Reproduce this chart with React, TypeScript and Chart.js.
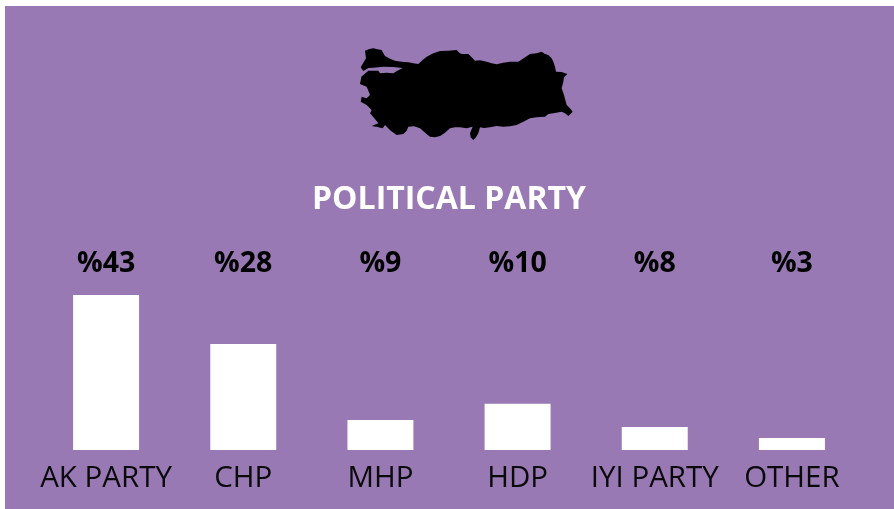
import React, { useEffect, useRef } from "react";
import { Chart, registerables } from "chart.js";

Chart.register(...registerables);

const categories = ["AK PARTY", "CHP", "MHP", "HDP", "IYI PARTY", "OTHER"];
const barValues = [43, 29.4, 8.3, 12.8, 6.4, 3.3];
const valueLabels = ["%43", "%28", "%9", "%10", "%8", "%3"];
const titleText = "POLITICAL PARTY";

const mapOutline =
  "75,62 88,57 100,55 112,58 125,60 130,70 135,78 150,86 165,92 185,95 205,97 220,100 235,102 248,90 260,80 280,70 300,63 325,62 350,60 358,68 365,72 385,72 395,82 405,92 420,91 440,95 455,100 470,103 490,98 510,95 535,95 552,84 570,72 590,70 605,65 615,72 625,75 635,85 640,95 645,110 648,125 665,126 682,132 672,142 670,155 665,175 672,195 680,225 690,235 698,245 685,258 675,250 665,245 640,250 625,252 615,260 590,262 570,265 550,275 530,285 510,289 490,290 470,288 450,292 432,294 420,292 415,310 408,322 400,330 392,322 390,310 398,290 380,295 360,292 345,292 330,295 315,308 300,318 285,322 270,320 255,308 240,295 222,289 205,290 200,302 190,312 170,315 152,302 135,285 128,295 112,291 95,288 115,280 103,265 90,250 95,240 80,225 62,215 65,200 80,205 90,195 85,182 80,170 60,162 64,140 85,122 115,122 120,130 140,128 160,130 172,122 188,114 160,111 130,110 100,113 85,114 70,123 62,112 70,98 78,85";

const valueLabelPlugin = {
  id: "valueLabels",
  afterDatasetsDraw(chart: any) {
    const { ctx } = chart;
    const meta = chart.getDatasetMeta(0);
    ctx.save();
    ctx.font = "bold 28.5px 'Open Sans'";
    ctx.fillStyle = "#000000";
    ctx.textAlign = "center";
    ctx.textBaseline = "middle";
    meta.data.forEach((bar: any, i: number) => {
      ctx.fillText(valueLabels[i], bar.x, 264);
    });
    ctx.restore();
  },
};

export default function App() {
  const canvasRef = useRef<HTMLCanvasElement>(null);

  useEffect(() => {
    document.body.style.margin = "0";
    const chart = new Chart(canvasRef.current as HTMLCanvasElement, {
      type: "bar",
      data: {
        labels: categories,
        datasets: [
          {
            data: barValues,
            backgroundColor: "#ffffff",
            borderWidth: 0,
            barPercentage: 0.481,
            categoryPercentage: 1,
          },
        ],
      },
      options: {
        responsive: false,
        animation: false,
        layout: { padding: { left: 37.5, right: 33.5, top: 180.5, bottom: 9.6 } },
        plugins: {
          legend: { display: false },
          tooltip: { enabled: false },
          title: {
            display: true,
            text: titleText,
            color: "#ffffff",
            font: { family: "'Open Sans'", size: 32, weight: "bold" },
            padding: { top: 0, bottom: 76 },
          },
        },
        scales: {
          x: {
            grid: { display: false },
            border: { display: false },
            ticks: {
              color: "#0a0a0a",
              font: { family: "'Open Sans'", size: 29.5 },
              padding: 3,
              maxRotation: 0,
              autoSkip: false,
            },
          },
          y: { display: false, min: 0, max: 43 },
        },
      },
      plugins: [valueLabelPlugin],
    } as any);
    return () => chart.destroy();
  }, []);

  return (
    <div style={{ position: "relative", width: 894, height: 509, background: "#ffffff", overflow: "hidden" }}>
      <div style={{ position: "absolute", left: 5, top: 6, right: 0, bottom: 0, background: "#9879B4" }} />
      <svg
        style={{ position: "absolute", left: 340, top: 30 }}
        width={250}
        height={120}
        viewBox="0 0 750 360"
      >
        <polygon points={mapOutline} fill="#000000" />
      </svg>
      <canvas ref={canvasRef} width={894} height={509} style={{ position: "absolute", left: 0, top: 0 }} />
    </div>
  );
}
